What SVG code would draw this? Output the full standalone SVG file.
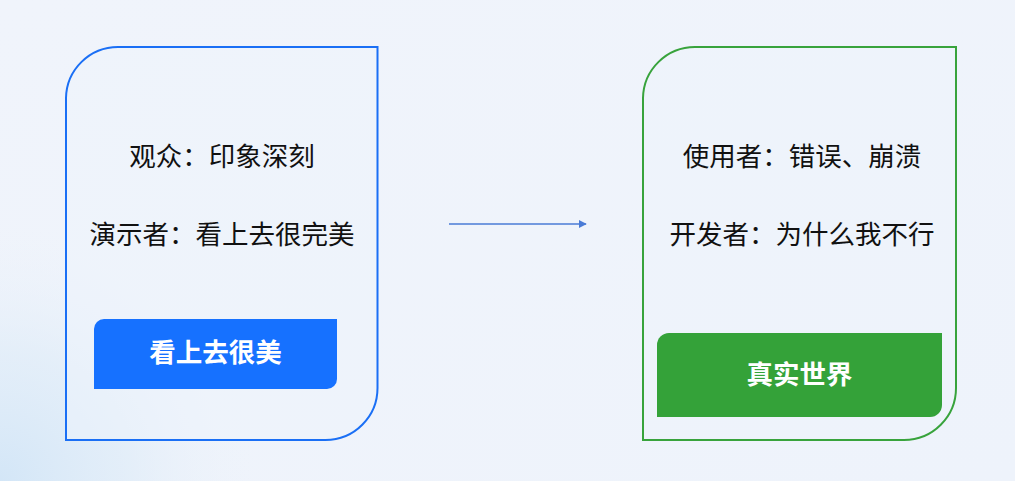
<svg xmlns="http://www.w3.org/2000/svg" width="1015" height="481" viewBox="0 0 1015 481">
  <defs>
    <linearGradient id="bg" x1="0" y1="0" x2="1" y2="1">
      <stop offset="0" stop-color="#f0f4fb"/>
      <stop offset="1" stop-color="#eef3fb"/>
    </linearGradient>
    <radialGradient id="tint" cx="0" cy="481" r="260" gradientUnits="userSpaceOnUse">
      <stop offset="0" stop-color="#d3e6f7"/>
      <stop offset="0.5" stop-color="#dfecf8" stop-opacity="0.7"/>
      <stop offset="1" stop-color="#eef3fb" stop-opacity="0"/>
    </radialGradient>
    <marker id="arrow" viewBox="0 0 10 10" refX="9" refY="5" markerWidth="8" markerHeight="8" markerUnits="userSpaceOnUse" orient="auto">
      <path d="M0,0 L10,5 L0,10 Z" fill="#4a7bd6"/>
    </marker>
    <style>
      .card { fill: #eef3fb; fill-opacity: 0.5; stroke-width: 2; }
      .txt { font-family: "Noto Sans CJK SC", "Noto Sans", sans-serif; font-size: 26.5px; fill: #111111; text-anchor: middle; dominant-baseline: central; }
      .btxt { font-family: "Noto Sans CJK SC", "Noto Sans", sans-serif; font-size: 26.5px; font-weight: bold; fill: #ffffff; text-anchor: middle; dominant-baseline: central; }
    </style>
  </defs>
  <rect width="1015" height="481" fill="url(#bg)"/>
  <rect width="1015" height="481" fill="url(#tint)"/>

  <g id="card-left">
    <path class="card" stroke="#1a6ff5" d="M66,98 A52,52 0 0 1 118,47 H377.5 V388 A52,52 0 0 1 325.5,440 H66 Z"/>
    <text class="txt" x="222" y="154.5">观众：印象深刻</text>
    <text class="txt" x="222" y="232">演示者：看上去很完美</text>
  </g>
  <g id="button-left">
    <path fill="#1671ff" d="M104,319 H337 V379 A10,10 0 0 1 327,389 H94 V329 A10,10 0 0 1 104,319 Z"/>
    <text class="btxt" x="215.5" y="350.5">看上去很美</text>
  </g>

  <g id="card-right">
    <path class="card" stroke="#38a33c" d="M643,98 A52,52 0 0 1 695,47 H956 V388 A52,52 0 0 1 904,440 H643 Z"/>
    <text class="txt" x="802" y="154.5">使用者：错误、崩溃</text>
    <text class="txt" x="802" y="232">开发者：为什么我不行</text>
  </g>
  <g id="button-right">
    <path fill="#34a239" d="M669,333 H942 V405 A12,12 0 0 1 930,417 H657 V345 A12,12 0 0 1 669,333 Z"/>
    <text class="btxt" x="799.5" y="372">真实世界</text>
  </g>

  <g id="connectors">
    <line x1="449" y1="224" x2="586" y2="224" stroke="#4a7bd6" stroke-width="1.5" marker-end="url(#arrow)"/>
  </g>
</svg>
